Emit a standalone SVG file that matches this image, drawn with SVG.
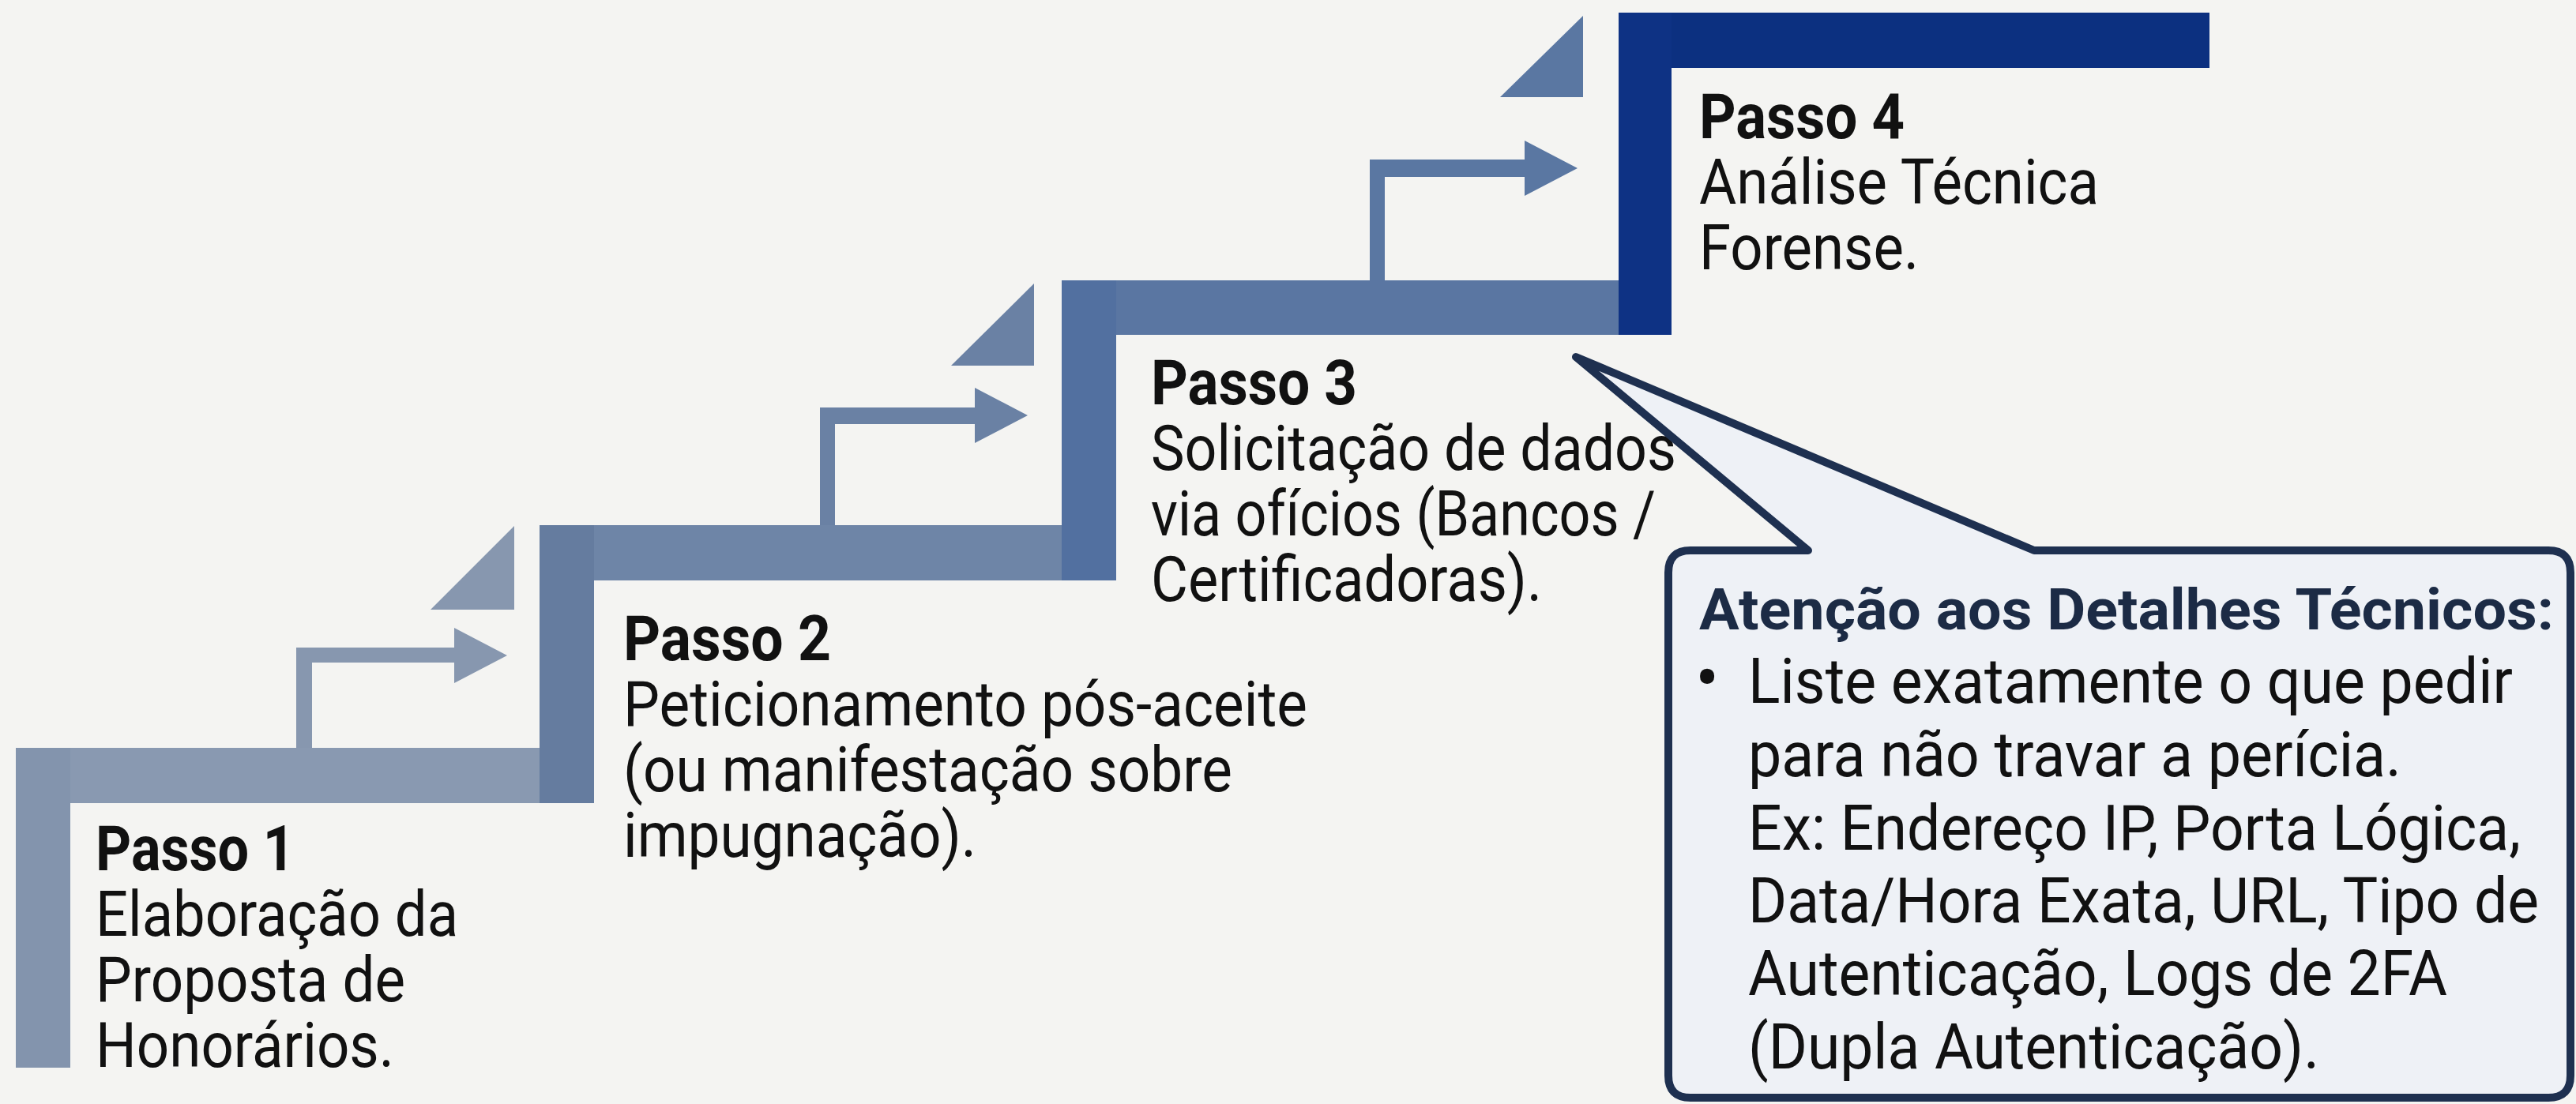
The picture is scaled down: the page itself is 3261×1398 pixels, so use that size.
<svg xmlns="http://www.w3.org/2000/svg" width="3261" height="1398" viewBox="0 0 3261 1398">
<style>
.t{font-family:Roboto,"Liberation Sans",sans-serif;font-size:79px;fill:#111}
.b{font-weight:700}
.ct{font-family:Roboto,"Liberation Sans",sans-serif;font-size:72px;font-weight:700;fill:#1c2b45}
</style>
<rect width="3261" height="1398" fill="#f4f4f2"/>
<g id="connectors">
<path d="M375 947V820H575V795L642 830L575 865V839H395V947Z" fill="#8797af"/>
<polygon points="545,772 651,666 651,772" fill="#8797af"/>
<path d="M1038 665V516H1234V491L1301 526L1234 561V537H1057V665Z" fill="#6a81a4"/>
<polygon points="1204,463 1309,359 1309,463" fill="#6a81a4"/>
<path d="M1734 355V202H1930V178L1997 213L1930 248V224H1753V355Z" fill="#5a77a2"/>
<polygon points="1899,123 2004,20 2004,123" fill="#5a77a2"/>
</g>
<g id="step1">
<rect x="20" y="947" width="663" height="70" fill="#8999b1"/>
<rect x="20" y="947" width="69" height="405" fill="#8394ad"/>
<text class="t b" x="121" y="1102" textLength="252" lengthAdjust="spacingAndGlyphs">Passo 1</text>
<text class="t" x="121" y="1185" textLength="459" lengthAdjust="spacingAndGlyphs">Elaboração da</text>
<text class="t" x="121" y="1268" textLength="392" lengthAdjust="spacingAndGlyphs">Proposta de</text>
<text class="t" x="121" y="1351" textLength="378" lengthAdjust="spacingAndGlyphs">Honorários.</text>
</g>
<g id="step2">
<rect x="683" y="665" width="661" height="70" fill="#6e85a7"/>
<rect x="683" y="665" width="69" height="352" fill="#657c9f"/>
<text class="t b" x="789" y="836" textLength="263" lengthAdjust="spacingAndGlyphs">Passo 2</text>
<text class="t" x="789" y="919" textLength="866" lengthAdjust="spacingAndGlyphs">Peticionamento pós-aceite</text>
<text class="t" x="789" y="1002" textLength="771" lengthAdjust="spacingAndGlyphs">(ou manifestação sobre</text>
<text class="t" x="789" y="1085" textLength="447" lengthAdjust="spacingAndGlyphs">impugnação).</text>
</g>
<g id="step3">
<rect x="1344" y="355" width="705" height="69" fill="#5a76a2"/>
<rect x="1344" y="355" width="69" height="380" fill="#5270a0"/>
<text class="t b" x="1457" y="512" textLength="261" lengthAdjust="spacingAndGlyphs">Passo 3</text>
<text class="t" x="1457" y="595" textLength="665" lengthAdjust="spacingAndGlyphs">Solicitação de dados</text>
<text class="t" x="1457" y="678" textLength="639" lengthAdjust="spacingAndGlyphs">via ofícios (Bancos /</text>
<text class="t" x="1457" y="761" textLength="495" lengthAdjust="spacingAndGlyphs">Certificadoras).</text>
</g>
<g id="step4">
<rect x="2049" y="16" width="748" height="70" fill="#0c3080"/>
<rect x="2049" y="16" width="67" height="408" fill="#0e3284"/>
<text class="t b" x="2151" y="175" textLength="260" lengthAdjust="spacingAndGlyphs">Passo 4</text>
<text class="t" x="2151" y="258" textLength="506" lengthAdjust="spacingAndGlyphs">Análise Técnica</text>
<text class="t" x="2151" y="341" textLength="278" lengthAdjust="spacingAndGlyphs">Forense.</text>
</g>
<g id="callout">
<path d="M2289 697L1995 452L2575 697H3226Q3254 697 3254 725V1362Q3254 1390 3226 1390H2140Q2112 1390 2112 1362V725Q2112 697 2140 697Z" fill="#eef1f6" stroke="#1e3050" stroke-width="10" stroke-linejoin="round"/>
<text class="ct" x="2151" y="797" textLength="1082" lengthAdjust="spacingAndGlyphs">Atenção aos Detalhes Técnicos:</text>
<text class="t" x="2146" y="890" style="font-size:90px">•</text>
<text class="t" x="2213" y="890" textLength="968" lengthAdjust="spacingAndGlyphs">Liste exatamente o que pedir</text>
<text class="t" x="2213" y="983" textLength="827" lengthAdjust="spacingAndGlyphs">para não travar a perícia.</text>
<text class="t" x="2213" y="1076" textLength="978" lengthAdjust="spacingAndGlyphs">Ex: Endereço IP, Porta Lógica,</text>
<text class="t" x="2213" y="1168" textLength="1001" lengthAdjust="spacingAndGlyphs">Data/Hora Exata, URL, Tipo de</text>
<text class="t" x="2213" y="1260" textLength="885" lengthAdjust="spacingAndGlyphs">Autenticação, Logs de 2FA</text>
<text class="t" x="2213" y="1353" textLength="723" lengthAdjust="spacingAndGlyphs">(Dupla Autenticação).</text>
</g>
</svg>
